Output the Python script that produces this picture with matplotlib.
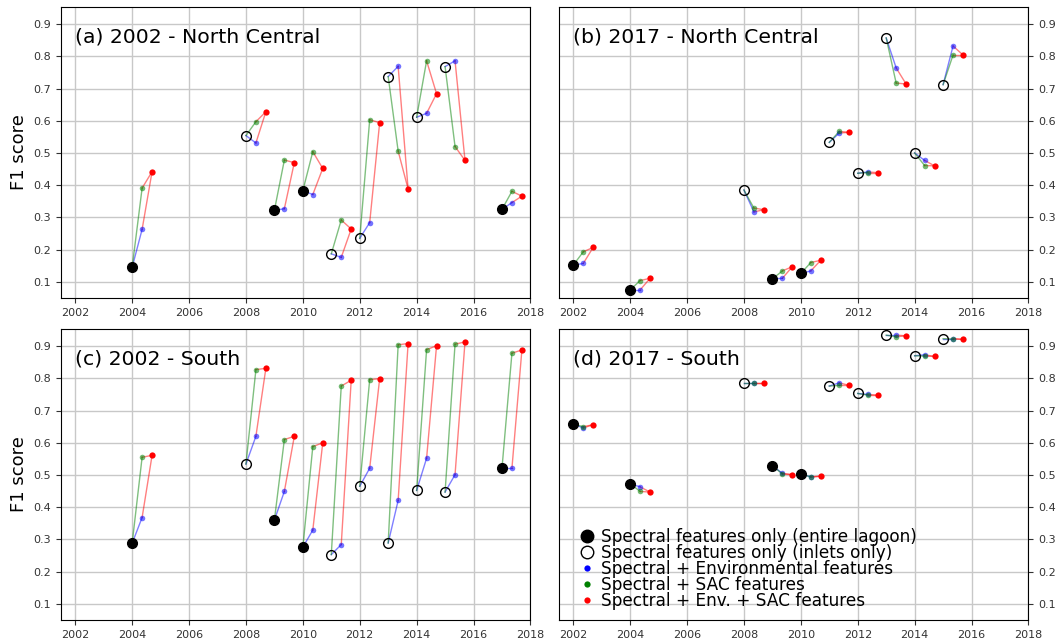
import matplotlib.pyplot as plt
from matplotlib.lines import Line2D
import numpy as np

# F1 scores per year: spectral only, + env, + SAC, + env + SAC
years_a = [2004, 2008, 2009, 2010, 2011, 2012, 2013, 2014, 2015, 2017]
full_a = [True, False, True, True, False, False, False, False, False, True]
spec_a = [0.145, 0.554, 0.322, 0.383, 0.187, 0.235, 0.737, 0.611, 0.768, 0.325]
env_a = [0.263, 0.531, 0.327, 0.371, 0.176, 0.284, 0.769, 0.623, 0.786, 0.346]
sac_a = [0.391, 0.597, 0.478, 0.504, 0.292, 0.603, 0.506, 0.786, 0.520, 0.381]
all_a = [0.442, 0.628, 0.470, 0.452, 0.264, 0.594, 0.388, 0.684, 0.477, 0.366]

years_b = [2002, 2004, 2008, 2009, 2010, 2011, 2012, 2013, 2014, 2015]
full_b = [True, True, False, True, True, False, False, False, False, False]
spec_b = [0.152, 0.075, 0.385, 0.109, 0.126, 0.533, 0.437, 0.857, 0.500, 0.712]
env_b = [0.157, 0.075, 0.317, 0.111, 0.134, 0.562, 0.441, 0.764, 0.477, 0.832]
sac_b = [0.193, 0.104, 0.329, 0.134, 0.160, 0.567, 0.439, 0.717, 0.461, 0.804]
all_b = [0.207, 0.111, 0.324, 0.147, 0.167, 0.564, 0.439, 0.714, 0.460, 0.804]

years_c = [2004, 2008, 2009, 2010, 2011, 2012, 2013, 2014, 2015, 2017]
full_c = [True, False, True, True, False, False, False, False, False, True]
spec_c = [0.288, 0.534, 0.360, 0.276, 0.253, 0.465, 0.289, 0.452, 0.447, 0.521]
env_c = [0.368, 0.620, 0.449, 0.329, 0.284, 0.521, 0.421, 0.552, 0.501, 0.521]
sac_c = [0.555, 0.827, 0.610, 0.588, 0.776, 0.796, 0.904, 0.889, 0.906, 0.878]
all_c = [0.561, 0.831, 0.620, 0.600, 0.794, 0.799, 0.908, 0.901, 0.913, 0.888]

years_d = [2002, 2004, 2008, 2009, 2010, 2011, 2012, 2013, 2014, 2015]
full_d = [True, True, False, True, True, False, False, False, False, False]
spec_d = [0.658, 0.473, 0.786, 0.529, 0.503, 0.776, 0.753, 0.934, 0.870, 0.923]
env_d = [0.646, 0.463, 0.786, 0.505, 0.494, 0.786, 0.750, 0.934, 0.873, 0.923]
sac_d = [0.650, 0.449, 0.786, 0.503, 0.494, 0.778, 0.748, 0.929, 0.869, 0.922]
all_d = [0.656, 0.447, 0.786, 0.501, 0.496, 0.778, 0.748, 0.932, 0.868, 0.921]

titles = ['(a) 2002 - North Central', '(b) 2017 - North Central',
          '(c) 2002 - South', '(d) 2017 - South']

fig = plt.figure(figsize=(10.56, 6.43), dpi=100)

x1 = 0.0578
xsp = 0.4716
xsize = 0.4445
y1 = 0.0358
ysp = 0.5008
ysize = 0.4525

pos = [(x1, y1+ysp), (x1+xsp, y1+ysp), (x1, y1), (x1+xsp, y1)]
data = [(years_a, full_a, spec_a, env_a, sac_a, all_a),
        (years_b, full_b, spec_b, env_b, sac_b, all_b),
        (years_c, full_c, spec_c, env_c, sac_c, all_c),
        (years_d, full_d, spec_d, env_d, sac_d, all_d)]

d1 = 0.35
d2 = 0.7

for i in range(4):
  ax = plt.axes((pos[i][0], pos[i][1], xsize, ysize))
  yr, full, s, e, c, a = data[i]
  yr = np.array(yr, dtype=float)
  for k in range(len(yr)):
    x0 = yr[k]
    ax.plot([x0, x0+d1], [s[k], e[k]], color='blue', lw=1, alpha=0.5, zorder=2)
    ax.plot([x0, x0+d1], [s[k], c[k]], color='green', lw=1, alpha=0.5, zorder=2)
    ax.plot([x0+d1, x0+d2], [e[k], a[k]], color='red', lw=1, alpha=0.5, zorder=2)
    ax.plot([x0+d1, x0+d2], [c[k], a[k]], color='red', lw=1, alpha=0.5, zorder=2)
  full = np.array(full)
  s = np.array(s)
  ax.plot(yr+d1, e, 'o', color='blue', ms=4, mew=0, alpha=0.55, zorder=3)
  ax.plot(yr+d1, c, 'o', color='green', ms=4, mew=0, alpha=0.55, zorder=3)
  ax.plot(yr+d2, a, 'o', color='red', ms=4.5, mew=0, zorder=3)
  ax.plot(yr[full], s[full], 'o', color='black', ms=7, zorder=4)
  ax.plot(yr[~full], s[~full], 'o', mfc='none', mec='black', ms=7, mew=1, zorder=4)
  ax.set_xlim(2001.5, 2018)
  ax.set_ylim(0.05, 0.953)
  ax.set_xticks(np.arange(2002, 2019, 2))
  ax.set_yticks(np.arange(0.1, 0.95, 0.1))
  ax.grid(True, color='#c8c8c8', lw=1)
  ax.set_axisbelow(True)
  ax.tick_params(labelsize=8, colors='#333333')
  ax.text(0.03, 0.93, titles[i], transform=ax.transAxes, fontsize=14.7, va='top')
  if i % 2 == 0:
    ax.set_ylabel('F1 score', fontsize=13)
  else:
    ax.yaxis.tick_right()
  if i == 3:
    hs = [Line2D([], [], ls='none', marker='o', color='black', ms=9),
          Line2D([], [], ls='none', marker='o', mfc='none', mec='black', ms=9, mew=1),
          Line2D([], [], ls='none', marker='o', color='blue', ms=4.5, mew=0),
          Line2D([], [], ls='none', marker='o', color='green', ms=4.5, mew=0),
          Line2D([], [], ls='none', marker='o', color='red', ms=4.5, mew=0)]
    ls = ['Spectral features only (entire lagoon)',
          'Spectral features only (inlets only)',
          'Spectral + Environmental features',
          'Spectral + SAC features',
          'Spectral + Env. + SAC features']
    ax.legend(hs, ls, loc='lower left', bbox_to_anchor=(0.01, 0.0),
              frameon=False, fontsize=12.2, labelspacing=-0.12,
              handletextpad=0.1, handlelength=1.5, borderaxespad=0.2)

plt.savefig('out.png', dpi=100)
